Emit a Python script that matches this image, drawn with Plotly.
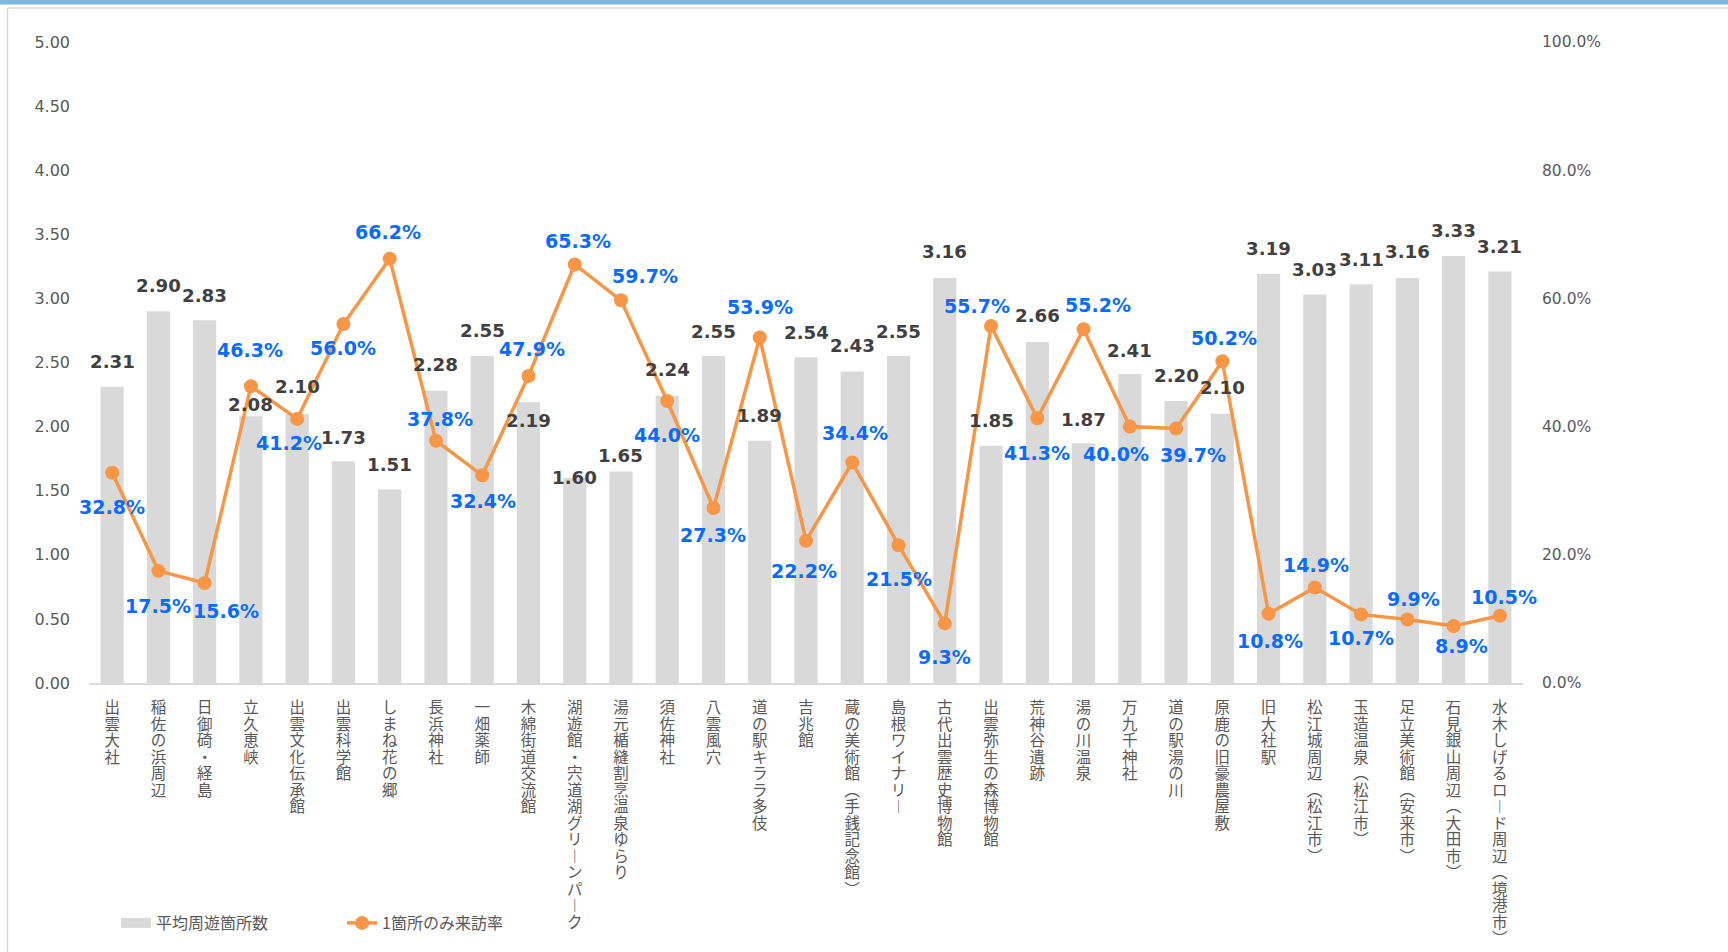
import plotly.graph_objects as go

# ---------------- data ----------------
categories = [
    "出雲大社", "稲佐の浜周辺", "日御碕・経島", "立久恵峡", "出雲文化伝承館", "出雲科学館",
    "しまね花の郷", "長浜神社", "一畑薬師", "木綿街道交流館", "湖遊館・宍道湖グリーンパーク",
    "湯元楯縫割烹温泉ゆらり", "須佐神社", "八雲風穴", "道の駅キララ多伎", "吉兆館",
    "蔵の美術館（手銭記念館）", "島根ワイナリー", "古代出雲歴史博物館", "出雲弥生の森博物館",
    "荒神谷遺跡", "湯の川温泉", "万九千神社", "道の駅湯の川", "原鹿の旧豪農屋敷", "旧大社駅",
    "松江城周辺（松江市）", "玉造温泉（松江市）", "足立美術館（安来市）", "石見銀山周辺（大田市）",
    "水木しげるロード周辺（境港市）",
]
avg_spots = [2.31, 2.90, 2.83, 2.08, 2.10, 1.73, 1.51, 2.28, 2.55, 2.19, 1.60, 1.65, 2.24, 2.55,
             1.89, 2.54, 2.43, 2.55, 3.16, 1.85, 2.66, 1.87, 2.41, 2.20, 2.10, 3.19, 3.03, 3.11,
             3.16, 3.33, 3.21]
single_rate = [32.8, 17.5, 15.6, 46.3, 41.2, 56.0, 66.2, 37.8, 32.4, 47.9, 65.3, 59.7, 44.0, 27.3,
               53.9, 22.2, 34.4, 21.5, 9.3, 55.7, 41.3, 55.2, 40.0, 39.7, 50.2, 10.8, 14.9, 10.7,
               9.9, 8.9, 10.5]
left_ticks = [0, 0.5, 1, 1.5, 2, 2.5, 3, 3.5, 4, 4.5, 5]
right_ticks = [0, 20, 40, 60, 80, 100]

# ---------------- label offsets (px, style only) ----------------
bar_label_dy = [25, 26, 25, 12, 27, 24, 25, 26, 26, -18, 0, 16, 26, 25, 25, 25, 26, 25, 26, 25,
                26, 24, 24, 25, 26, 26, 25, 25, 26, 26, 25]
rate_label_dx = [0, 0, 21, -1, -8, 0, -2, 4, 1, 4, 3, 24, 0, 0, 0, -2, 3, 0, 0, -14, 0, 14, -14,
                 17, 2, 1, 1, 0, 6, 8, 4]
rate_label_dy = [-34, -35, -28, 36, -24, -24, 27, 22, -26, 27, 23, 24, -34, -27, 31, -30, 30, -34,
                 -34, 20, -35, 24, -27, -26, 23, -27, 22, -24, 21, -20, 19]

BAR_COLOR = "#D9D9D9"
LINE_COLOR = "#F79646"
BLUE = "#0A6CFF"
DARK = "#404040"
GREY_TXT = "#595959"
LAT = "DejaVu Sans, Verdana, sans-serif"
JP = "Noto Sans CJK JP, sans-serif"

VERT = {"（": "︵", "）": "︶", "ー": "︱"}


def vertical(label):
    chars = [VERT.get(c, c) for c in label]
    return "<br>".join('<span style="font-size:15.5px">%s</span>' % c for c in chars)


fig = go.Figure()
fig.add_trace(go.Bar(
    x=categories, y=avg_spots, name="平均周遊箇所数", legendgroup="bar", showlegend=False,
    marker=dict(color=BAR_COLOR, line=dict(width=0)), width=0.5,
    hovertemplate="%{x}: %{y:.2f}<extra></extra>",
))
# legend entry for the bars, drawn as a wide grey swatch like the original
fig.add_trace(go.Scatter(
    x=[None], y=[None], name="平均周遊箇所数", legendgroup="bar", mode="lines",
    line=dict(color=BAR_COLOR, width=11), hoverinfo="skip",
))
fig.add_trace(go.Scatter(
    x=categories, y=single_rate, name="1箇所のみ来訪率", yaxis="y2",
    mode="lines+markers",
    line=dict(color=LINE_COLOR, width=3.5),
    marker=dict(color=LINE_COLOR, size=14),
    hovertemplate="%{x}: %{y:.1f}%<extra></extra>",
))

annotations = []
for c, v, dy in zip(categories, avg_spots, bar_label_dy):
    annotations.append(dict(
        x=c, y=v, xref="x", yref="y", text="<b>%.2f</b>" % v, showarrow=False,
        yshift=dy, xanchor="center", yanchor="middle",
        font=dict(family=LAT, size=18.2, color=DARK),
    ))
for c, v, dx, dy in zip(categories, single_rate, rate_label_dx, rate_label_dy):
    annotations.append(dict(
        x=c, y=v, xref="x", yref="y2", text="<b>%.1f%%</b>" % v, showarrow=False,
        xshift=dx, yshift=dy, xanchor="center", yanchor="middle",
        font=dict(family=LAT, size=19, color=BLUE),
    ))

# frame decorations (paper coordinates)
L, R, T, B = 89, 205, 42, 269
W, H = 1728, 952
pw, ph = W - L - R, H - T - B


def px_x(X):
    return (X - L) / pw


def px_y(Y):
    return (H - B - Y) / ph


shapes = [
    dict(type="rect", xref="paper", yref="paper", x0=px_x(0), x1=px_x(W), y0=px_y(4.5), y1=px_y(0),
         fillcolor="#7EB7DF", line=dict(width=0), layer="above"),
    dict(type="line", xref="paper", yref="paper", x0=px_x(7.5), x1=px_x(W), y0=px_y(8), y1=px_y(8),
         line=dict(color="#D9D9D9", width=1.5)),
    dict(type="line", xref="paper", yref="paper", x0=px_x(7.5), x1=px_x(7.5), y0=px_y(8), y1=px_y(H),
         line=dict(color="#D9D9D9", width=1.5)),
]

fig.update_layout(
    template="none",
    width=W, height=H,
    margin=dict(l=L, r=R, t=T, b=B, pad=0),
    paper_bgcolor="white", plot_bgcolor="white",
    font=dict(family=JP, color=GREY_TXT),
    showlegend=True,
    legend=dict(
        orientation="h", x=px_x(116), y=px_y(923), xanchor="left", yanchor="middle",
        font=dict(family=JP, size=16, color=GREY_TXT), entrywidth=181, entrywidthmode="pixels",
        bgcolor="rgba(0,0,0,0)", borderwidth=0, traceorder="normal",
    ),
    xaxis=dict(
        type="category", range=[-0.5, len(categories) - 0.5], automargin=False,
        tickmode="array", tickvals=categories, ticktext=[vertical(c) for c in categories],
        tickangle=0, ticks="", showgrid=False, zeroline=False,
        showline=True, linecolor="#D9D9D9", linewidth=1.5,
        tickfont=dict(family=JP, size=12.7, color=GREY_TXT), ticklabelstandoff=13,
    ),
    yaxis=dict(
        range=[0, 5], tickmode="array", tickvals=left_ticks, tickformat=".2f",
        showgrid=False, zeroline=False, showline=False, ticks="", automargin=False,
        tickfont=dict(family=LAT, size=16, color=GREY_TXT), ticklabelstandoff=18,
    ),
    yaxis2=dict(
        overlaying="y", side="right", range=[0, 100], tickmode="array", tickvals=right_ticks,
        ticktext=["%.1f%%" % t for t in right_ticks], showgrid=False, zeroline=False,
        showline=False, ticks="", automargin=False,
        tickfont=dict(family=LAT, size=15.5, color=GREY_TXT), ticklabelstandoff=18,
    ),
    bargap=0.5,
    annotations=annotations,
    shapes=shapes,
)

fig.write_html("out.html", config={"displayModeBar": False},
               post_script="document.body.style.margin='0px';")
